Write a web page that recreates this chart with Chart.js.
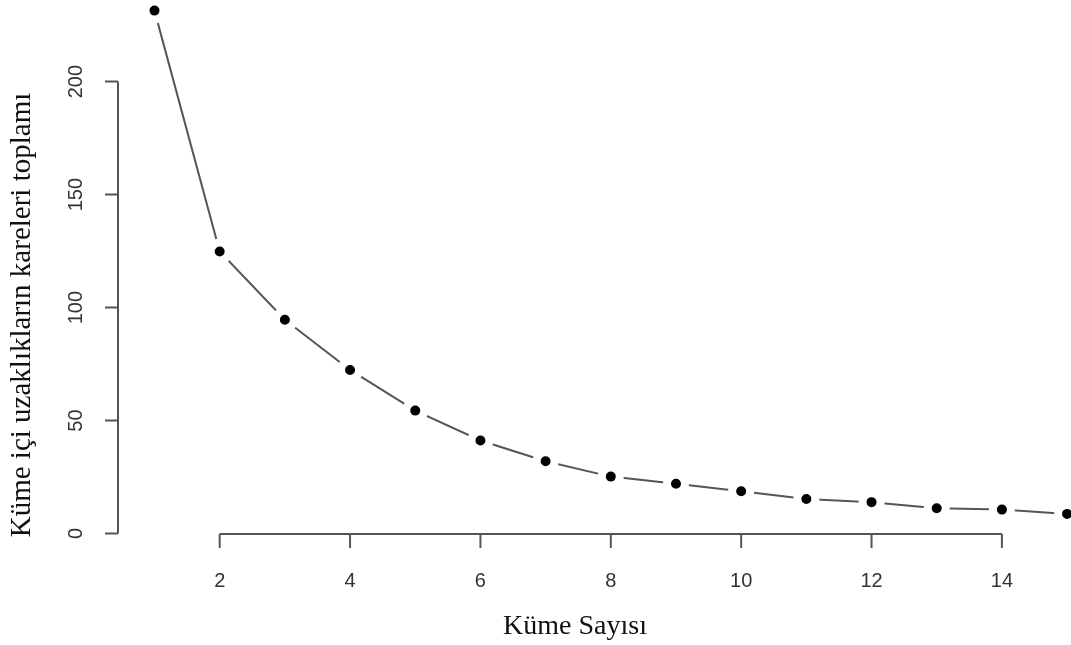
<!DOCTYPE html>
<html>
<head>
<meta charset="utf-8">
<script src="https://cdn.jsdelivr.net/npm/chart.js@4"></script>
<style>
html,body{margin:0;padding:0;background:#fff;}
#wrap{width:1071px;height:645px;position:relative;}
</style>
</head>
<body>
<div id="wrap"><canvas id="c" width="1071" height="645"></canvas></div>
<script>
const clusters = [1,2,3,4,5,6,7,8,9,10,11,12,13,14,15];
const wss = [231.4,124.8,94.6,72.4,54.4,41.2,32.0,25.2,22.0,18.7,15.3,13.9,11.2,10.6,8.7];
const xTicks = [2,4,6,8,10,12,14];
const yTicks = [0,50,100,150,200];
const xTitle = 'Küme Sayısı';
const yTitle = 'Küme içi uzaklıkların kareleri toplamı';

const rAxes = {
  id:'rAxes',
  afterDraw(chart){
    const ctx = chart.ctx, xs = chart.scales.x, ys = chart.scales.y;
    const ca = chart.chartArea;
    ctx.save();
    ctx.strokeStyle = '#555';
    ctx.lineWidth = 2;
    // y axis
    const ax = ca.left;
    const y0 = ys.getPixelForValue(yTicks[0]), y1 = ys.getPixelForValue(yTicks[yTicks.length-1]);
    ctx.beginPath();
    ctx.moveTo(ax, y0); ctx.lineTo(ax, y1);
    yTicks.forEach(v=>{ const p = ys.getPixelForValue(v); ctx.moveTo(ax,p); ctx.lineTo(ax-13,p); });
    ctx.stroke();
    // x axis
    const ay = ca.bottom;
    const x0 = xs.getPixelForValue(xTicks[0]), x1 = xs.getPixelForValue(xTicks[xTicks.length-1]);
    ctx.beginPath();
    ctx.moveTo(x0, ay); ctx.lineTo(x1, ay);
    xTicks.forEach(v=>{ const p = xs.getPixelForValue(v); ctx.moveTo(p,ay); ctx.lineTo(p,ay+14); });
    ctx.stroke();
    // tick labels
    ctx.fillStyle = '#333';
    ctx.font = '20px "Liberation Sans", Arial, sans-serif';
    ctx.textAlign = 'center'; ctx.textBaseline = 'middle';
    xTicks.forEach(v=>{ ctx.fillText(String(v), xs.getPixelForValue(v), 581); });
    yTicks.forEach(v=>{
      ctx.save();
      ctx.translate(76, ys.getPixelForValue(v));
      ctx.rotate(-Math.PI/2);
      ctx.fillText(String(v), 0, 0);
      ctx.restore();
    });
    // titles
    ctx.fillStyle = '#111';
    ctx.font = '28px "Liberation Serif", "Times New Roman", serif';
    ctx.fillText(xTitle, 575, 627);
    ctx.font = '29px "Liberation Serif", "Times New Roman", serif';
    ctx.save();
    ctx.translate(22, 315);
    ctx.rotate(-Math.PI/2);
    ctx.fillText(yTitle, 0, 0);
    ctx.restore();
    ctx.restore();
  }
};

new Chart(document.getElementById('c'), {
  type:'line',
  data:{
    datasets:[{
      data: clusters.map((c,i)=>({x:c, y:wss[i]})),
      borderColor:'#555',
      borderWidth:2,
      pointRadius:9,
      pointBackgroundColor:'#000',
      pointBorderColor:'#fff',
      pointBorderWidth:8,
      pointHoverRadius:9,
      tension:0,
      clip:false
    }]
  },
  options:{
    responsive:false,
    animation:false,
    events:[],
    layout:{autoPadding:false,padding:{left:118,right:0,top:0,bottom:111}},
    plugins:{legend:{display:false},tooltip:{enabled:false}},
    scales:{
      x:{type:'linear',min:0.44,max:15.06,display:false},
      y:{type:'linear',min:-0.2,max:236.1,display:false}
    }
  },
  plugins:[rAxes]
});
</script>
</body>
</html>
